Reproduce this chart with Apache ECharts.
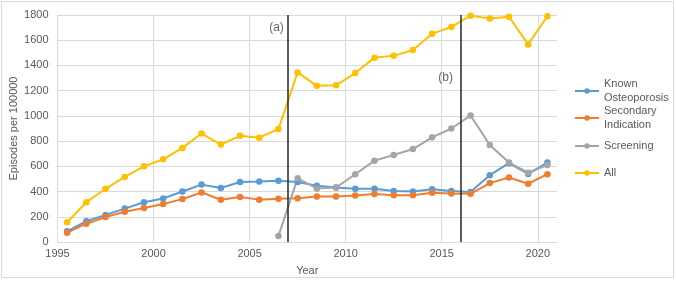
<!DOCTYPE html>
<html>
<head>
<meta charset="utf-8">
<script src="https://cdn.jsdelivr.net/npm/echarts@6/dist/echarts.min.js"></script>
<style>html,body{margin:0;padding:0;background:#fff}#c{width:676px;height:281px}</style>
</head>
<body>
<div id="c"></div>
<script>
var years = [1995.5,1996.5,1997.5,1998.5,1999.5,2000.5,2001.5,2002.5,2003.5,2004.5,2005.5,2006.5,2007.5,2008.5,2009.5,2010.5,2011.5,2012.5,2013.5,2014.5,2015.5,2016.5,2017.5,2018.5,2019.5,2020.5];
var knownOsteoporosis = [85,165,215,265,315,345,400,455,428,476,480,486,476,446,433,422,422,404,401,418,404,396,530,625,540,630];
var secondaryIndication = [74,145,198,240,270,302,340,393,335,356,336,343,346,360,360,368,380,370,370,390,384,382,467,512,462,538];
var screening = [null,null,null,null,null,null,null,null,null,null,null,48,505,425,432,537,645,690,737,830,900,1003,770,630,550,610];
var allEpisodes = [156,315,422,516,600,656,746,860,773,842,827,896,1345,1238,1242,1340,1462,1476,1522,1652,1705,1795,1772,1786,1567,1790];
var xTickMin = 1995, xTickMax = 2021, xTickStep = 5;
var yTickMin = 0, yTickMax = 1800, yTickStep = 200;
var eventYears = [2007, 2016];
var annotationText = ['(a)', '(b)'];
var annotationX = [2006.4, 2015.2];
var annotationY = [1700, 1305];

function pairs(vals){ return years.map(function(y,i){ return [y, vals[i]]; }); }

var font = 'Liberation Sans, Arial, sans-serif';
var txt = '#595959';
var chart = echarts.init(document.getElementById('c'), null, {renderer:'canvas'});

function mk(name, color, vals, extra){
  var s = {
    name: name, type: 'line', data: pairs(vals),
    symbol: 'circle', symbolSize: 6.5,
    lineStyle: {color: color, width: 2},
    itemStyle: {color: color},
    connectNulls: false, animation: false
  };
  if (extra) for (var k in extra) s[k] = extra[k];
  return s;
}

function leg(name, top, twoLine){
  var d = {name: name};
  if (twoLine) d.textStyle = {padding: [14,0,0,0]};
  return {
    data: [d], left: 574, top: top, orient: 'vertical', padding: 0,
    itemWidth: 24, itemHeight: 7, itemGap: 0,
    selectedMode: false,
    formatter: function(n){
      if (n === 'Known Osteoporosis') return 'Known\nOsteoporosis';
      if (n === 'Secondary Indication') return 'Secondary\nIndication';
      return n;
    },
    textStyle: {color: txt, fontFamily: font, fontSize: 11, lineHeight: 14}
  };
}

chart.setOption({
  animation: false,
  backgroundColor: '#fff',
  graphic: [{type:'rect', shape:{x:1.5,y:1.5,width:672,height:276}, style:{fill:'none', stroke:'#d9d9d9', lineWidth:1}, silent:true}],
  grid: {left: 57.5, right: 119, top: 15, bottom: 39, containLabel: false, outerBoundsMode: 'none'},
  legend: [
    leg('Known Osteoporosis', 70, true),
    leg('Secondary Indication', 97, true),
    leg('Screening', 139, false),
    leg('All', 166, false)
  ],
  xAxis: {
    type: 'value', min: xTickMin, max: xTickMax, interval: xTickStep,
    name: 'Year', nameLocation: 'middle', nameGap: 23, nameMoveOverlap: false,
    nameTextStyle: {color: txt, fontFamily: font, fontSize: 11},
    axisLine: {show: true, lineStyle: {color: '#d9d9d9'}},
    axisTick: {show: false},
    axisLabel: {color: txt, fontFamily: font, fontSize: 11, margin: 6, showMaxLabel: false,
      formatter: function(v){ return String(v); }},
    splitLine: {show: true, showMaxLine: false, lineStyle: {color: '#d9d9d9'}}
  },
  yAxis: {
    type: 'value', min: yTickMin, max: yTickMax, interval: yTickStep,
    name: 'Episodes per 100000', nameLocation: 'middle', nameGap: 38, nameMoveOverlap: false,
    nameTextStyle: {color: txt, fontFamily: font, fontSize: 11},
    axisLine: {show: true, lineStyle: {color: '#d9d9d9'}},
    axisTick: {show: false},
    axisLabel: {color: txt, fontFamily: font, fontSize: 11, margin: 9,
      formatter: function(v){ return String(v); }},
    splitLine: {show: true, lineStyle: {color: '#d9d9d9'}}
  },
  series: [
    mk('Known Osteoporosis', '#5B9BD5', knownOsteoporosis),
    mk('Secondary Indication', '#ED7D31', secondaryIndication),
    mk('Screening', '#A5A5A5', screening),
    mk('All', '#FFC000', allEpisodes, {
      markLine: {
        silent: true, symbol: 'none', animation: false,
        label: {show: false},
        lineStyle: {color: '#262626', width: 1.5, type: 'solid'},
        data: eventYears.map(function(y){ return {xAxis: y}; })
      }
    }),
    {
      name: 'annotations', type: 'scatter', symbolSize: 0, silent: true,
      data: annotationText.map(function(t,i){ return {name: t, value: [annotationX[i], annotationY[i]]}; }),
      label: {show: true, position: 'inside', formatter: '{b}', color: '#404040', fontFamily: font, fontSize: 12}
    }
  ]
});
</script>
</body>
</html>
